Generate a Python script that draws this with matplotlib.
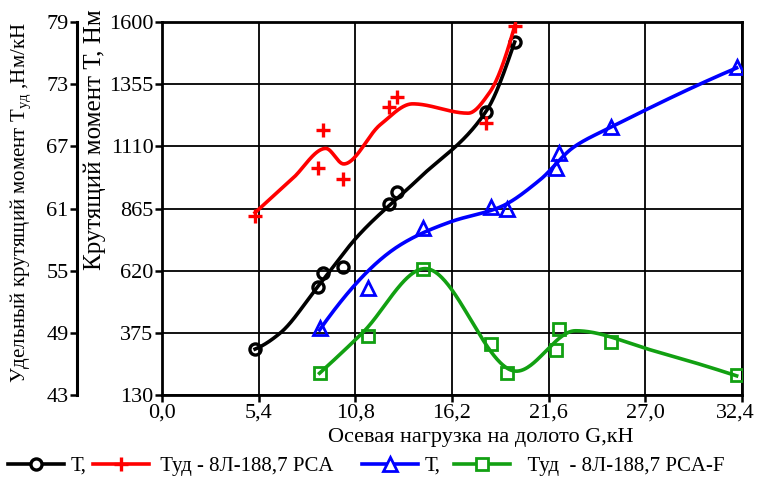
import numpy as np
import matplotlib
matplotlib.use("Agg")
import matplotlib.pyplot as plt
from matplotlib.lines import Line2D
from matplotlib.transforms import ScaledTranslation

plt.rcParams['font.family'] = ['Liberation Serif', 'DejaVu Serif']
plt.rcParams['mathtext.fontset'] = 'custom'
plt.rcParams['mathtext.rm'] = 'Liberation Serif'

# --- measured points ---
g_a = [5.2, 8.7, 9.0, 10.1, 12.7, 13.1, 18.1, 19.7]
black_T = [311, 557, 610, 636, 883, 931, 1245, 1522]
red_Tud = [60.3, 64.9, 68.6, 63.8, 70.8, 71.8, 69.3, 78.6]

g_b = [8.8, 11.5, 14.6, 18.4, 19.3, 22.0, 22.2, 25.1, 32.1]
blue_T = [394, 552, 788, 871, 863, 1025, 1084, 1186, 1423]
green_Tud = [45.1, 48.7, 55.2, 47.9, 45.1, 47.3, 49.4, 48.1, 44.9]

# --- smoothed trend curves (knots) ---
black_fit_x = [5.2, 6.6, 8.7, 11.0, 14.25, 18.15, 19.7]
black_fit_y = [311, 374, 557, 761, 977, 1253, 1521]
red_fit_x = [5.2, 7.3, 9.15, 10.15, 12.2, 14.0, 17.1, 18.3, 19.7]
red_fit_y = [60.6, 63.9, 66.8, 65.3, 69.1, 71.1, 70.2, 72.2, 78.6]
blue_fit_x = [8.8, 13.3, 16.1, 18.9, 21.1, 23.0, 25.1, 32.1]
blue_fit_y = [386, 721, 812, 871, 977, 1107, 1186, 1419]
green_fit_x = [8.8, 11.2, 14.7, 19.8, 23.1, 27.4, 32.1]
green_fit_y = [45.1, 49.0, 55.2, 45.3, 49.2, 47.3, 44.85]

x_ticks = [0.0, 5.4, 10.8, 16.2, 21.6, 27.0, 32.4]
x_labels = ['0,0', '5,4', '10,8', '16,2', '21,6', '27,0', '32,4']
T_ticks = [130, 375, 620, 865, 1110, 1355, 1600]
Tud_ticks = [43, 49, 55, 61, 67, 73, 79]


def pchip(x, y, xs):
    """Monotone cubic (Fritsch-Carlson) curve through the knots."""
    x = np.asarray(x, float)
    y = np.asarray(y, float)
    h = np.diff(x)
    d = np.diff(y) / h
    n = len(x)
    m = np.zeros(n)
    for k in range(1, n - 1):
        if d[k - 1] * d[k] > 0:
            w1 = 2 * h[k] + h[k - 1]
            w2 = h[k] + 2 * h[k - 1]
            m[k] = (w1 + w2) / (w1 / d[k - 1] + w2 / d[k])
    for i, (j, k) in enumerate([(0, 1), (n - 2, n - 3)]):
        hj, hk, dj, dk = h[j], h[k], d[j], d[k]
        e = ((2 * hj + hk) * dj - hj * dk) / (hj + hk)
        if np.sign(e) != np.sign(dj):
            e = 0.0
        elif np.sign(dj) != np.sign(dk) and abs(e) > abs(3 * dj):
            e = 3 * dj
        m[0 if i == 0 else -1] = e
    idx = np.clip(np.searchsorted(x, xs) - 1, 0, n - 2)
    t = (xs - x[idx]) / h[idx]
    h00 = 2 * t**3 - 3 * t**2 + 1
    h10 = t**3 - 2 * t**2 + t
    h01 = -2 * t**3 + 3 * t**2
    h11 = t**3 - t**2
    return h00 * y[idx] + h10 * h[idx] * m[idx] + h01 * y[idx + 1] + h11 * h[idx] * m[idx + 1]


def smooth(ax, xs, ys, color):
    xx = np.linspace(xs[0], xs[-1], 400)
    ax.plot(xx, pchip(xs, ys, xx), color=color, lw=2.6, zorder=3)


fig = plt.figure(figsize=(7.57, 4.79), dpi=100)
ax = fig.add_axes([162 / 757, 84 / 479, 580 / 757, 373 / 479])
ax2 = ax.twinx()

# torque T (inner axis)
smooth(ax, black_fit_x, black_fit_y, 'black')
smooth(ax, blue_fit_x, blue_fit_y, 'blue')
ax.plot(g_a, black_T, 'o', ms=8, mfc='none', mec='black', mew=2.4, zorder=4)
ax.plot(g_b, blue_T, '^', ms=10, mfc='none', mec='blue', mew=2.0, zorder=4)

# specific torque Tud (outer axis)
smooth(ax2, red_fit_x, red_fit_y, 'red')
smooth(ax2, green_fit_x, green_fit_y, '#12a012')
ax2.plot(g_a, red_Tud, '+', ms=10, mec='red', mew=2.4, zorder=4)
ax2.plot(g_b, green_Tud, 's', ms=8, mfc='none', mec='#12a012', mew=2.0, zorder=4)

ax.set_xlim(0, 32.4)
ax.set_ylim(130, 1600)
ax2.set_ylim(43, 79)
ax.set_xticks(x_ticks)
ax.set_xticklabels(x_labels)
ax.set_yticks(T_ticks)
ax2.set_yticks(Tud_ticks)
ax.grid(True, color='black', lw=1.3)

for s in ax.spines.values():
    s.set_linewidth(2)
for s in ['top', 'bottom', 'right']:
    ax2.spines[s].set_visible(False)
ax2.spines['left'].set_visible(True)
ax2.spines['left'].set_position(('axes', -0.1466))
ax2.spines['left'].set_linewidth(2.2)
ax2.yaxis.tick_left()
ax2.yaxis.set_label_position('left')

ax.tick_params(labelsize=16, width=1.8, length=5, pad=1)
ax2.tick_params(labelsize=16, width=1.8, length=5, pad=1)

# keep the last x label inside the picture
last = ax.get_xticklabels()[-1]
last.set_transform(last.get_transform() + ScaledTranslation(-5 / 72, 0, fig.dpi_scale_trans))

ax.set_xlabel('Осевая нагрузка на долото G,кН', fontsize=16)
ax.xaxis.set_label_coords(0.55, -0.088)
ax.set_ylabel('Крутящий момент Т, Нм', fontsize=18)
ax.yaxis.set_label_coords(-0.097, 0.685)
ax2.set_ylabel(r'Удельный крутящий момент Т$_{\mathrm{уд}}$ ,Нм/кН', fontsize=15)
ax2.yaxis.set_label_coords(-0.221, 0.515)

h_black = Line2D([], [], color='black', lw=2.6, marker='o', ms=8, mfc='white', mew=2.4)
h_red = Line2D([], [], color='red', lw=2.6, marker='+', ms=10, mew=2.4)
h_blue = Line2D([], [], color='blue', lw=2.6, marker='^', ms=10, mfc='white', mew=2.0)
h_green = Line2D([], [], color='#12a012', lw=2.6, marker='s', ms=8, mfc='white', mew=2.0)

leg_kw = dict(ncol=2, frameon=False, fontsize=15, handlelength=2.7,
              handletextpad=0.3, borderaxespad=0, borderpad=0)
fig.legend([h_black, h_red], ['Т,', ' Туд - 8Л-188,7 PCA'], columnspacing=0.3,
           loc='center left', bbox_to_anchor=(8 / 757, 1 - 466 / 479), **leg_kw)
fig.legend([h_blue, h_green], ['Т,', '  Туд  - 8Л-188,7 PCA-F'], columnspacing=0.65,
           loc='center left', bbox_to_anchor=(362 / 757, 1 - 466 / 479), **leg_kw)

fig.savefig('out.png', dpi=100)
